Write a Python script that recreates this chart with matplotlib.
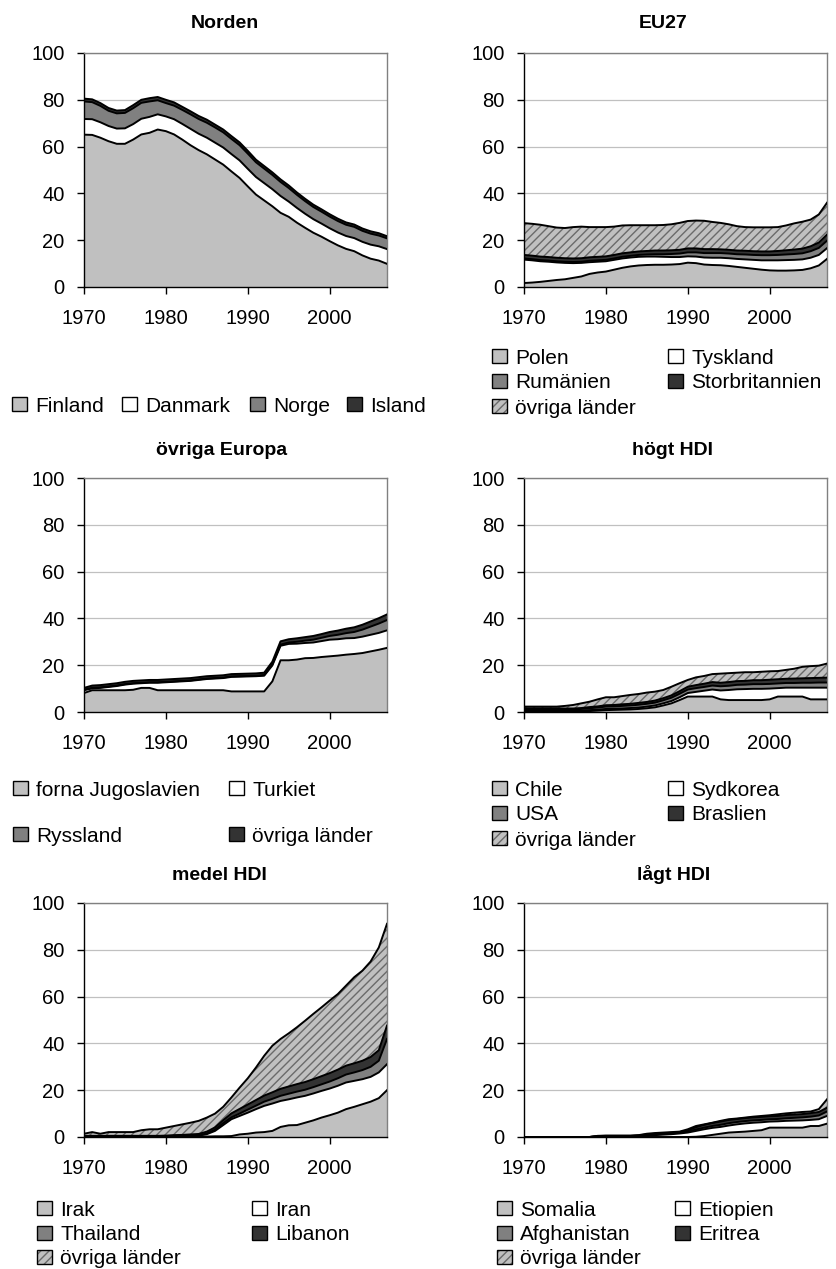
import matplotlib
matplotlib.use('Agg')
import matplotlib.pyplot as plt
from matplotlib.patches import Patch
import numpy as np

plt.rcParams['font.family'] = ['Liberation Sans', 'DejaVu Sans']
plt.rcParams['hatch.color'] = '#6a6a6a'
plt.rcParams['hatch.linewidth'] = 1.0

years = np.arange(1970, 2008)

# Norden
finland = [65.1, 65.0, 63.8, 62.3, 61.2, 61.2, 63.0, 65.2, 65.9, 67.3,
           66.6, 65.2, 63.0, 60.6, 58.5, 56.7, 54.5, 52.3, 49.4, 46.6,
           43.0, 39.5, 37.0, 34.5, 31.7, 30.0, 27.5, 25.3, 23.2, 21.5,
           19.6, 17.8, 16.3, 15.3, 13.5, 12.1, 11.3, 9.9]
danmark = [6.7, 6.7, 6.6, 6.5, 6.5, 6.6, 6.6, 6.7, 6.8, 6.5,
           6.3, 6.5, 6.7, 7.0, 7.0, 7.1, 7.2, 7.3, 7.4, 7.5,
           7.5, 7.5, 7.4, 7.3, 7.2, 6.5, 6.3, 6.0, 5.8, 5.6,
           5.5, 5.5, 5.5, 5.6, 5.8, 6.0, 6.1, 6.3]
norge = [7.5, 7.3, 7.0, 6.5, 6.5, 6.6, 6.8, 6.8, 6.6, 6.0,
         5.7, 5.8, 6.0, 6.2, 6.3, 6.4, 6.5, 6.5, 6.5, 6.5,
         6.5, 6.3, 6.2, 6.1, 6.0, 5.8, 5.6, 5.4, 5.2, 5.1,
         5.0, 4.9, 4.8, 4.8, 4.7, 4.7, 4.6, 4.6]
island = [1.2, 1.2, 1.2, 1.2, 1.2, 1.2, 1.3, 1.3, 1.4, 1.4,
          1.4, 1.4, 1.3, 1.3, 1.3, 1.3, 1.2, 1.2, 1.2, 1.2,
          1.2, 1.1, 1.1, 1.1, 1.1, 1.1, 1.0, 1.0, 1.0, 1.0,
          1.0, 1.0, 1.0, 1.0, 1.0, 1.0, 1.0, 0.9]

# EU27
polen = [1.7, 1.9, 2.2, 2.6, 3.0, 3.3, 3.9, 4.5, 5.6, 6.2,
         6.6, 7.4, 8.2, 8.8, 9.2, 9.4, 9.5, 9.5, 9.6, 9.8,
         10.4, 10.2, 9.6, 9.4, 9.3, 9.0, 8.6, 8.2, 7.8, 7.4,
         7.1, 7.0, 7.0, 7.1, 7.3, 8.0, 9.2, 12.0]
tyskland = [10.0, 9.5, 8.8, 8.2, 7.5, 7.0, 6.3, 5.8, 5.0, 4.6,
            4.4, 4.2, 4.0, 3.8, 3.7, 3.6, 3.5, 3.4, 3.2, 3.0,
            2.7, 2.8, 3.0, 3.1, 3.2, 3.3, 3.4, 3.6, 3.8, 4.0,
            4.3, 4.4, 4.5, 4.5, 4.5, 4.5, 4.5, 4.6]
rumanien = [0.5, 0.5, 0.5, 0.5, 0.5, 0.5, 0.5, 0.5, 0.6, 0.6,
            0.6, 0.6, 0.7, 0.7, 0.8, 0.9, 1.0, 1.1, 1.3, 1.5,
            1.7, 1.8, 1.9, 2.0, 2.0, 2.0, 2.0, 2.1, 2.1, 2.2,
            2.2, 2.3, 2.4, 2.5, 2.6, 2.8, 3.0, 3.2]
storbritannien = [1.5, 1.5, 1.5, 1.5, 1.5, 1.5, 1.5, 1.5, 1.5, 1.5,
                  1.5, 1.5, 1.5, 1.5, 1.5, 1.5, 1.6, 1.6, 1.6, 1.6,
                  1.7, 1.7, 1.7, 1.7, 1.6, 1.6, 1.6, 1.6, 1.6, 1.6,
                  1.6, 1.7, 1.8, 1.9, 2.0, 2.1, 2.3, 2.6]
eu_ovriga = [13.6, 13.6, 13.6, 13.2, 12.9, 12.9, 13.4, 13.5, 12.9, 12.7,
             12.5, 12.1, 11.9, 11.6, 11.2, 11.0, 10.8, 10.9, 11.1, 11.5,
             11.7, 11.9, 12.1, 11.6, 11.3, 10.9, 10.4, 10.1, 10.2, 10.3,
             10.3, 10.2, 10.6, 11.2, 11.5, 11.4, 12.0, 13.6]

# övriga Europa
jugoslavien = [8.1, 9.3, 9.3, 9.3, 9.3, 9.3, 9.5, 10.3, 10.3, 9.3,
               9.3, 9.3, 9.3, 9.3, 9.3, 9.3, 9.3, 9.3, 8.8, 8.8,
               8.8, 8.8, 8.8, 13.1, 22.1, 22.1, 22.4, 23.0, 23.1, 23.5,
               23.8, 24.1, 24.5, 24.8, 25.2, 25.9, 26.6, 27.4]
turkiet = [1.2, 0.8, 1.0, 1.4, 1.8, 2.4, 2.6, 2.0, 2.2, 3.2,
           3.4, 3.6, 3.8, 4.0, 4.4, 4.8, 5.0, 5.2, 6.2, 6.3,
           6.4, 6.5, 6.7, 6.8, 6.2, 7.0, 6.8, 6.5, 6.6, 6.8,
           7.1, 7.0, 7.0, 6.8, 7.0, 7.1, 7.2, 7.5]
ryssland = [0.2, 0.2, 0.2, 0.2, 0.2, 0.2, 0.2, 0.2, 0.2, 0.2,
            0.2, 0.2, 0.2, 0.2, 0.2, 0.2, 0.2, 0.2, 0.2, 0.2,
            0.2, 0.2, 0.3, 0.4, 0.5, 0.6, 0.8, 1.0, 1.2, 1.4,
            1.6, 1.9, 2.2, 2.6, 3.0, 3.5, 4.0, 4.4]
eur_ovriga = [0.8, 1.0, 1.0, 1.0, 1.0, 1.0, 1.0, 1.0, 1.0, 1.0,
              1.0, 1.0, 1.0, 1.0, 1.0, 1.0, 1.0, 1.0, 1.0, 1.0,
              1.0, 1.0, 1.0, 1.2, 1.4, 1.4, 1.5, 1.5, 1.6, 1.6,
              1.7, 1.8, 1.9, 2.0, 2.1, 2.2, 2.3, 2.4]

# högt HDI
chile = [0.3, 0.3, 0.3, 0.3, 0.3, 0.2, 0.2, 0.3, 0.4, 0.6,
         0.8, 0.9, 1.0, 1.1, 1.3, 1.6, 2.0, 2.8, 3.7, 5.1,
         6.6, 6.6, 6.6, 6.6, 5.4, 5.1, 5.1, 5.1, 5.1, 5.1,
         5.4, 6.6, 6.6, 6.6, 6.6, 5.4, 5.4, 5.4]
sydkorea = [0.3, 0.3, 0.3, 0.3, 0.3, 0.3, 0.3, 0.3, 0.4, 0.4,
            0.5, 0.5, 0.5, 0.6, 0.6, 0.7, 0.8, 0.9, 1.0, 1.2,
            1.5, 2.0, 2.5, 3.0, 3.8, 4.3, 4.6, 4.7, 4.8, 4.8,
            4.6, 3.6, 3.8, 3.8, 3.8, 5.0, 5.0, 5.0]
usa = [0.6, 0.6, 0.6, 0.6, 0.6, 0.6, 0.6, 0.7, 0.8, 0.9,
       1.0, 1.0, 1.1, 1.1, 1.2, 1.2, 1.2, 1.3, 1.4, 1.5,
       1.5, 1.6, 1.6, 1.7, 1.8, 1.8, 1.9, 1.9, 2.0, 2.0,
       2.0, 2.0, 2.0, 2.0, 2.1, 2.1, 2.2, 2.2]
braslien = [0.4, 0.4, 0.4, 0.4, 0.4, 0.4, 0.4, 0.4, 0.5, 0.5,
            0.6, 0.6, 0.7, 0.7, 0.8, 0.8, 0.9, 0.9, 1.0, 1.1,
            1.2, 1.3, 1.4, 1.5, 1.5, 1.6, 1.6, 1.6, 1.7, 1.7,
            1.8, 1.8, 1.8, 1.9, 1.9, 2.0, 2.0, 2.1]
hog_ovriga = [0.7, 0.7, 0.7, 0.7, 0.7, 1.1, 1.5, 2.0, 2.3, 3.0,
              3.4, 3.3, 3.5, 3.8, 3.8, 4.0, 3.8, 3.5, 3.7, 3.4,
              2.9, 3.3, 3.3, 3.4, 3.9, 3.8, 3.6, 3.7, 3.4, 3.6,
              3.6, 3.5, 3.8, 4.2, 4.9, 5.1, 5.2, 6.0]

# medel HDI
irak = [0.2, 0.2, 0.2, 0.2, 0.2, 0.2, 0.2, 0.2, 0.2, 0.2,
        0.2, 0.2, 0.2, 0.2, 0.2, 0.2, 0.3, 0.3, 0.4, 1.1,
        1.4, 1.9, 2.1, 2.6, 4.3, 5.0, 5.1, 6.1, 7.1, 8.3,
        9.3, 10.4, 11.9, 12.9, 14.0, 15.1, 16.6, 20.0]
iran = [0.1, 0.1, 0.1, 0.1, 0.1, 0.1, 0.1, 0.1, 0.1, 0.1,
        0.1, 0.2, 0.2, 0.3, 0.4, 1.0, 2.3, 4.8, 7.2, 7.9,
        9.0, 10.0, 11.2, 11.7, 11.1, 11.1, 11.8, 11.5, 11.5, 11.4,
        11.4, 11.5, 11.4, 11.1, 10.7, 10.6, 11.0, 11.1]
thailand = [0.1, 0.1, 0.1, 0.1, 0.1, 0.1, 0.1, 0.1, 0.1, 0.1,
            0.1, 0.1, 0.1, 0.1, 0.1, 0.3, 0.5, 0.8, 0.8, 1.0,
            1.3, 1.5, 1.8, 2.0, 2.2, 2.4, 2.5, 2.6, 2.7, 2.8,
            3.0, 3.2, 3.4, 3.6, 3.9, 4.3, 5.0, 10.8]
libanon = [0.1, 0.1, 0.1, 0.1, 0.1, 0.1, 0.1, 0.1, 0.1, 0.1,
           0.2, 0.3, 0.4, 0.5, 0.6, 0.8, 1.0, 1.3, 1.7, 2.0,
           2.2, 2.4, 2.6, 2.8, 3.0, 3.1, 3.2, 3.3, 3.4, 3.5,
           3.6, 3.7, 3.8, 3.9, 4.0, 4.2, 4.5, 5.7]
medel_ovriga = [0.9, 1.6, 0.9, 1.6, 1.6, 1.6, 1.6, 2.4, 2.8, 2.8,
                3.4, 3.9, 4.5, 5.0, 5.6, 6.0, 5.9, 5.7, 6.8, 9.1,
                11.2, 13.9, 17.0, 19.9, 21.3, 22.7, 24.3, 26.2, 27.9, 29.4,
                31.0, 32.3, 34.2, 36.8, 38.5, 40.8, 43.9, 43.5]

# lågt HDI
somalia = [0, 0, 0, 0, 0, 0, 0, 0, 0, 0,
           0, 0, 0, 0, 0, 0, 0, 0, 0, 0,
           0, 0.1, 0.4, 0.9, 1.4, 1.9, 2.1, 2.3, 2.6, 2.9,
           4.0, 4.0, 4.0, 4.0, 4.0, 4.7, 4.7, 5.7]
etiopien = [0, 0, 0, 0, 0, 0, 0, 0, 0, 0.2,
            0.3, 0.3, 0.3, 0.3, 0.4, 0.6, 0.8, 1.0, 1.2, 1.5,
            1.9, 2.5, 2.9, 3.0, 2.9, 3.0, 3.3, 3.5, 3.5, 3.4,
            2.6, 2.7, 2.9, 3.0, 3.1, 2.6, 2.9, 3.3]
afghanistan = [0, 0, 0, 0, 0, 0, 0, 0, 0, 0.1,
               0.1, 0.1, 0.1, 0.1, 0.1, 0.2, 0.3, 0.3, 0.3, 0.3,
               0.4, 0.6, 0.7, 0.8, 0.9, 1.0, 1.0, 1.0, 1.0, 1.0,
               1.0, 1.0, 1.1, 1.2, 1.3, 1.4, 1.6, 1.9]
eritrea = [0, 0, 0, 0, 0, 0, 0, 0, 0, 0.1,
           0.1, 0.1, 0.1, 0.1, 0.2, 0.3, 0.3, 0.3, 0.3, 0.3,
           0.6, 1.0, 1.2, 1.3, 1.4, 1.4, 1.3, 1.3, 1.3, 1.3,
           1.3, 1.3, 1.4, 1.4, 1.4, 1.5, 1.5, 1.6]
lag_ovriga = [0, 0, 0, 0, 0, 0, 0, 0, 0, 0.1,
              0.1, 0.1, 0.1, 0.1, 0.1, 0.3, 0.3, 0.3, 0.3, 0.2,
              0.4, 0.5, 0.2, 0.1, 0.3, 0.3, 0.2, 0.2, 0.3, 0.4,
              0.4, 0.7, 0.7, 0.8, 0.9, 0.7, 1.2, 3.6]

LIGHT = '#c0c0c0'
WHITE = '#ffffff'
MID = '#808080'
DARK = '#333333'
HATCH_BG = '#c0c0c0'
HATCH_FG = '#6a6a6a'

W, H = 837, 1269
fig = plt.figure(figsize=(W / 100, H / 100), dpi=100)


def fx(px):
    return px / W


def fy(py):
    return 1 - py / H


def panel(left, top, title, title_x, title_y, layers):
    ax = fig.add_axes([fx(left), fy(top + 234), 303 / W, 234 / H])
    base = np.zeros(len(years))
    for vals, color in layers:
        upper = base + np.array(vals)
        if color == 'hatch':
            ax.fill_between(years, base, upper, facecolor=HATCH_BG, edgecolor=HATCH_FG,
                            hatch='////', linewidth=0, zorder=2)
        else:
            ax.fill_between(years, base, upper, facecolor=color, linewidth=0, zorder=2)
        ax.plot(years, upper, color='black', lw=1.4, zorder=3)
        base = upper
    ax.set_xlim(1970, 2007)
    ax.set_ylim(0, 100)
    ax.set_yticks(range(0, 101, 20))
    ax.set_xticks([1970, 1980, 1990, 2000])
    ax.yaxis.grid(True, color='#c0c0c0', lw=0.9)
    ax.set_axisbelow(True)
    for s in ['left', 'bottom']:
        ax.spines[s].set_color('black')
        ax.spines[s].set_linewidth(1.0)
    for s in ['top', 'right']:
        ax.spines[s].set_color('#808080')
        ax.spines[s].set_linewidth(1.0)
    ax.tick_params(direction='out', length=5, width=1, labelsize=14.5)
    ax.tick_params(axis='y', pad=9)
    ax.tick_params(axis='x', pad=11)
    fig.text(fx(title_x), fy(title_y), title, ha='center', va='baseline',
             fontsize=14, fontweight='bold')
    return ax


def entry(x, y, label, color):
    if color == 'hatch':
        h = (Patch(facecolor=HATCH_BG, edgecolor=HATCH_FG, hatch='////', lw=0),
             Patch(facecolor='none', edgecolor='black', lw=1))
    else:
        h = Patch(facecolor=color, edgecolor='black', lw=1)
    fig.legend([h], [label], loc='center left', bbox_to_anchor=(fx(x), fy(y)),
               frameon=False, borderpad=0, borderaxespad=0, handlelength=0.7,
               handleheight=0.65, handletextpad=0.42, fontsize=15)


# Norden
panel(84, 53, 'Norden', 225, 28,
      [(finland, LIGHT), (danmark, WHITE), (norge, MID), (island, DARK)])
entry(12, 406, 'Finland', LIGHT)
entry(122, 406, 'Danmark', WHITE)
entry(250, 406, 'Norge', MID)
entry(347, 406, 'Island', DARK)

# EU27
panel(524, 53, 'EU27', 663, 28,
      [(polen, LIGHT), (tyskland, WHITE), (rumanien, MID), (storbritannien, DARK),
       (eu_ovriga, 'hatch')])
entry(492, 358, 'Polen', LIGHT)
entry(668, 358, 'Tyskland', WHITE)
entry(492, 383, 'Rumänien', MID)
entry(668, 383, 'Storbritannien', DARK)
entry(492, 408, 'övriga länder', 'hatch')

# övriga Europa
panel(84, 478, 'övriga Europa', 222, 455,
      [(jugoslavien, LIGHT), (turkiet, WHITE), (ryssland, MID), (eur_ovriga, DARK)])
entry(13, 790, 'forna Jugoslavien', LIGHT)
entry(229, 790, 'Turkiet', WHITE)
entry(13, 836, 'Ryssland', MID)
entry(229, 836, 'övriga länder', DARK)

# högt HDI
panel(524, 478, 'högt HDI', 673, 455,
      [(chile, LIGHT), (sydkorea, WHITE), (usa, MID), (braslien, DARK),
       (hog_ovriga, 'hatch')])
entry(492, 790, 'Chile', LIGHT)
entry(668, 790, 'Sydkorea', WHITE)
entry(492, 815, 'USA', MID)
entry(668, 815, 'Braslien', DARK)
entry(492, 840, 'övriga länder', 'hatch')

# medel HDI
panel(84, 903, 'medel HDI', 219, 880,
      [(irak, LIGHT), (iran, WHITE), (thailand, MID), (libanon, DARK),
       (medel_ovriga, 'hatch')])
entry(37, 1210, 'Irak', LIGHT)
entry(252, 1210, 'Iran', WHITE)
entry(37, 1235, 'Thailand', MID)
entry(252, 1235, 'Libanon', DARK)
entry(37, 1259, 'övriga länder', 'hatch')

# lågt HDI
panel(524, 903, 'lågt HDI', 674, 880,
      [(somalia, LIGHT), (etiopien, WHITE), (afghanistan, MID), (eritrea, DARK),
       (lag_ovriga, 'hatch')])
entry(497, 1210, 'Somalia', LIGHT)
entry(675, 1210, 'Etiopien', WHITE)
entry(497, 1235, 'Afghanistan', MID)
entry(675, 1235, 'Eritrea', DARK)
entry(497, 1259, 'övriga länder', 'hatch')

fig.savefig('out.png', dpi=100)
